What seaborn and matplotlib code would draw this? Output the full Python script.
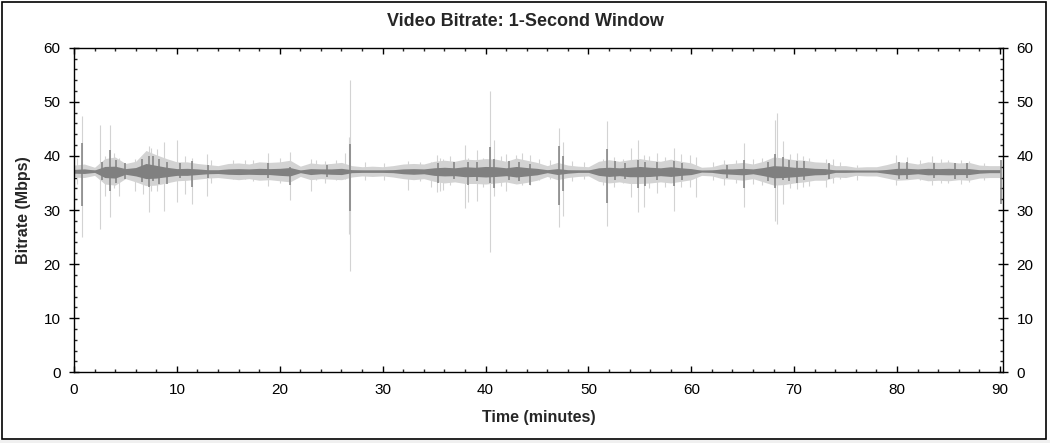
import matplotlib
matplotlib.use("Agg")
import matplotlib.pyplot as plt
import numpy as np
import pandas as pd
import seaborn as sns
from matplotlib.patches import Rectangle
from matplotlib.ticker import MultipleLocator

# one row per minute: envelope of the 1-second samples (light) and core (dark)
minutes = list(range(0, 91))
light_hi = [38.3, 38.5, 37.9, 39.5, 39.8, 38.6, 39.0, 41.0, 40.2, 39.5,
            38.9, 38.9, 38.6, 38.4, 38.2, 38.6, 38.7, 38.5, 38.9, 38.8,
            38.9, 39.2, 38.1, 38.7, 38.5, 38.6, 38.8, 38.2, 38.0, 38.1,
            38.0, 38.2, 38.5, 38.6, 38.5, 39.0, 39.2, 39.0, 39.4, 39.3,
            39.5, 39.4, 39.0, 39.6, 39.2, 38.8, 38.2, 38.8, 38.3, 38.1,
            38.0, 39.0, 39.3, 39.0, 39.3, 39.5, 39.2, 39.0, 39.4, 39.0,
            38.7, 37.9, 38.0, 38.5, 38.6, 38.8, 38.5, 39.0, 39.8, 39.6,
            39.3, 39.2, 38.9, 38.8, 38.2, 38.2, 37.9, 38.0, 38.0, 38.4,
            38.9, 38.8, 38.5, 38.9, 38.8, 38.9, 38.7, 38.8, 38.3, 38.2,
            38.2]
light_lo = [36.1, 36.0, 36.4, 34.8, 34.6, 35.8, 35.2, 34.5, 34.6, 35.0,
            35.4, 35.5, 35.7, 35.9, 36.0, 35.8, 35.6, 35.8, 35.5, 35.6,
            35.4, 35.2, 36.2, 35.6, 35.8, 35.7, 35.6, 36.1, 36.3, 36.2,
            36.3, 36.1, 35.8, 35.6, 35.8, 35.3, 35.0, 35.2, 34.9, 34.9,
            34.8, 35.0, 35.2, 34.8, 35.1, 35.5, 36.2, 35.6, 36.0, 36.2,
            36.3, 35.3, 35.0, 35.2, 34.9, 34.9, 35.0, 35.2, 35.0, 35.3,
            35.6, 36.4, 36.3, 35.8, 35.7, 35.5, 35.8, 35.2, 34.6, 34.7,
            35.0, 35.2, 35.5, 35.5, 36.1, 36.0, 36.4, 36.3, 36.3, 35.9,
            35.5, 35.6, 35.8, 35.4, 35.5, 35.4, 35.6, 35.5, 35.9, 36.0,
            36.0]
dark_hi = [37.5, 37.6, 37.4, 38.05, 38.1, 37.65, 37.85, 38.6, 38.25, 37.9,
           37.65, 37.7, 37.6, 37.45, 37.45, 37.6, 37.65, 37.6, 37.7, 37.65,
           37.7, 37.85, 37.4, 37.65, 37.6, 37.6, 37.7, 37.45, 37.4, 37.4,
           37.4, 37.45, 37.6, 37.65, 37.6, 37.8, 37.9, 37.8, 38.0, 37.9,
           38.05, 38.0, 37.8, 38.05, 37.85, 37.7, 37.45, 37.65, 37.45, 37.4,
           37.4, 37.8, 37.9, 37.8, 37.9, 38.05, 37.9, 37.8, 38.0, 37.8,
           37.65, 37.35, 37.4, 37.6, 37.6, 37.7, 37.6, 37.85, 38.2, 38.1,
           37.9, 37.85, 37.7, 37.65, 37.4, 37.4, 37.35, 37.35, 37.35, 37.5,
           37.7, 37.7, 37.6, 37.7, 37.65, 37.7, 37.65, 37.65, 37.45, 37.45,
           37.45]
dark_lo = [36.8, 36.75, 36.95, 36.0, 35.9, 36.6, 36.3, 35.8, 35.9, 36.15,
           36.4, 36.4, 36.55, 36.7, 36.75, 36.6, 36.55, 36.6, 36.55, 36.55,
           36.4, 36.3, 36.9, 36.55, 36.7, 36.6, 36.55, 36.9, 36.95, 36.95,
           36.95, 36.9, 36.7, 36.6, 36.7, 36.4, 36.3, 36.35, 36.15, 36.2,
           36.1, 36.2, 36.35, 36.1, 36.3, 36.5, 36.9, 36.55, 36.8, 36.95,
           36.95, 36.4, 36.2, 36.35, 36.15, 36.15, 36.2, 36.35, 36.2, 36.4,
           36.55, 37.0, 36.95, 36.7, 36.6, 36.5, 36.7, 36.35, 35.95, 36.0,
           36.15, 36.3, 36.5, 36.55, 36.95, 36.95, 37.0, 37.0, 37.0, 36.75,
           36.5, 36.55, 36.7, 36.5, 36.55, 36.5, 36.55, 36.55, 36.8, 36.9,
           36.9]

# single 1-second peaks (light = window range, dark = core)
spike_t = [0.3, 0.81, 2.56, 2.98, 3.53, 3.9, 4.4, 5.95, 6.7, 7.28, 7.5, 8.1,
           8.77, 9.97, 10.8, 11.46, 12.88, 13.3, 15.46, 16.6, 17.4, 18.87,
           20.0, 21.04, 23.08, 23.5, 24.4, 25.5, 26.3, 26.75, 26.8, 28.3,
           30.1, 32.5, 33.6, 34.7, 35.3, 35.6, 35.9, 36.5, 37.99, 38.3, 39.2,
           39.8, 40.42, 40.8, 41.5, 41.99, 42.98, 43.5, 44.3, 45.2, 46.3,
           47.1, 47.5, 48.4, 49.6, 51.4, 51.78, 52.5, 53.4, 54.1, 54.8, 55.4,
           55.9, 56.7, 57.4, 58.35, 59.0, 59.9, 60.5, 62.1, 63.2, 64.3,
           65.15, 66.0, 66.9, 68.16, 68.3, 68.96, 69.6, 70.3, 70.9, 71.4,
           73.1, 73.8, 74.5, 76.1, 79.9, 81.0, 82.2, 83.4, 84.3, 85.0, 86.2,
           87.0, 88.5]
spike_hi = [39.6, 47.4, 45.8, 39.9, 45.7, 40.5, 39.7, 39.5, 39.5, 41.8, 41.5,
            41.2, 42.5, 42.9, 39.9, 39.6, 40.4, 39.2, 39.3, 39.3, 39.3, 40.6,
            39.6, 40.7, 39.5, 39.3, 39.0, 39.3, 40.6, 43.5, 54.0, 38.8,
            38.7, 39.0, 38.9, 38.9, 40.1, 39.6, 39.5, 39.9, 42.0, 39.7, 41.1,
            39.6, 52.0, 42.9, 39.9, 40.4, 40.1, 40.6, 40.1, 39.5, 39.2,
            45.1, 42.6, 39.0, 38.8, 39.5, 46.4, 39.8, 39.5, 41.4, 43.0, 40.1,
            40.0, 40.6, 39.8, 41.4, 40.3, 40.1, 39.8, 38.8, 39.2, 39.3,
            42.3, 39.5, 39.7, 46.6, 47.9, 42.7, 40.3, 40.6, 40.0, 39.6,
            39.5, 39.5, 38.9, 38.4, 40.1, 39.8, 39.3, 39.9, 39.4, 39.2, 39.3,
            39.0, 38.7]
spike_lo = [34.8, 25.0, 26.4, 32.5, 28.7, 34.0, 32.5, 33.6, 33.0, 29.6, 33.5,
            33.5, 29.9, 31.5, 33.0, 31.2, 32.5, 35.0, 35.8, 35.8, 35.3, 34.4,
            35.0, 31.8, 33.6, 35.5, 35.0, 35.5, 35.8, 25.6, 18.8, 35.6,
            35.5, 33.7, 35.3, 34.3, 33.3, 33.5, 33.7, 34.6, 30.4, 31.5, 31.7,
            34.2, 22.2, 32.5, 34.4, 33.6, 35.5, 34.6, 34.6, 35.5, 35.8,
            26.9, 28.8, 35.4, 35.8, 34.6, 27.0, 34.2, 34.9, 32.4, 29.6, 30.6,
            34.0, 33.2, 34.2, 29.8, 34.3, 34.3, 32.4, 35.5, 34.6, 35.0,
            30.6, 34.8, 34.6, 27.9, 27.4, 31.2, 34.0, 33.8, 34.2, 34.4,
            34.3, 34.9, 35.8, 35.5, 34.6, 35.8, 35.6, 34.6, 35.0, 34.9, 34.8,
            35.2, 35.6]

core_t = [0.81, 2.7, 3.53, 4.1, 5.0, 6.6, 7.28, 7.7, 8.3, 9.0, 10.3, 11.46,
          13.0, 18.9, 21.04, 24.6, 26.8, 35.4, 36.9, 38.3, 39.2, 40.42, 40.8,
          42.3, 43.3, 44.3, 47.1, 47.5, 51.78, 52.6, 53.6, 54.8, 55.5, 56.7,
          58.35, 59.1, 63.5, 65.15, 67.5, 68.16, 68.96, 69.5, 70.3, 71.0,
          73.4, 80.2, 81.0, 83.6, 85.6, 86.8, 90.15]
core_hi = [42.4, 38.8, 41.1, 39.3, 38.6, 39.4, 39.9, 40.0, 39.5, 38.8, 38.6,
           39.0, 38.4, 38.6, 38.0, 38.3, 42.2, 38.6, 38.8, 38.8, 38.9, 41.7,
           39.5, 39.0, 38.9, 38.5, 41.8, 39.9, 41.2, 39.0, 38.7, 39.2, 38.8,
           38.9, 39.0, 38.7, 38.4, 39.2, 38.9, 40.4, 39.8, 39.3, 39.0, 39.0,
           38.6, 38.8, 38.9, 38.6, 38.7, 38.6, 39.2]
core_lo = [30.7, 35.5, 33.6, 35.0, 35.8, 35.2, 34.3, 35.3, 34.8, 34.8, 35.9,
           34.3, 36.0, 36.0, 34.6, 36.1, 29.8, 34.9, 35.7, 34.6, 35.3, 34.9,
           34.1, 35.6, 35.4, 34.6, 30.9, 33.5, 31.3, 35.5, 35.7, 34.1, 34.5,
           35.5, 34.5, 35.6, 36.0, 34.1, 35.4, 34.1, 35.5, 35.4, 35.0, 35.6,
           35.8, 35.8, 35.8, 35.9, 35.8, 35.9, 31.2]

light = "#d3d3d3"
dark = "#808080"

sns.set_style("ticks")
plt.rcParams["font.family"] = ["Liberation Sans", "DejaVu Sans"]

df_light = pd.DataFrame({"t": minutes * 2, "v": light_hi + light_lo})
df_dark = pd.DataFrame({"t": minutes * 2, "v": dark_hi + dark_lo})

fig = plt.figure(figsize=(10.5, 4.43), dpi=100)
fig.patch.set_facecolor("white")
ax = fig.add_axes([74 / 1050, 1 - 372.3 / 443, 929 / 1050, 324.6 / 443])

sns.lineplot(data=df_light, x="t", y="v", errorbar=("pi", 100), color=light,
             linewidth=0.6, zorder=1,
             err_kws={"alpha": 1, "linewidth": 0, "zorder": 1}, ax=ax)
ax.vlines(spike_t, spike_lo, spike_hi, color=light, linewidth=0.8, zorder=1.5)
sns.lineplot(data=df_dark, x="t", y="v", errorbar=("pi", 100), color=dark,
             linewidth=0.8, zorder=2,
             err_kws={"alpha": 1, "linewidth": 0, "zorder": 2}, ax=ax)
ax.vlines(core_t, core_lo, core_hi, color=dark, linewidth=1.1, zorder=2.5)

ax.set_xlim(0, 90.3)
ax.set_ylim(0, 60)
ax.xaxis.set_major_locator(MultipleLocator(10))
ax.xaxis.set_minor_locator(MultipleLocator(2))
ax.yaxis.set_major_locator(MultipleLocator(10))
ax.yaxis.set_minor_locator(MultipleLocator(2))

for s in ax.spines.values():
    s.set_visible(True)
    s.set_linewidth(1.0)
    s.set_color("black")
    s.set_zorder(3)

ax.tick_params(axis="x", which="major", direction="in", length=4.5, width=1,
               top=True, bottom=True, labelsize=11, pad=8, colors="black")
ax.tick_params(axis="x", which="minor", direction="in", length=2, width=1,
               top=True, bottom=True)
ax.tick_params(axis="y", which="major", direction="inout", length=7.5, width=1,
               left=True, right=True, labelleft=True, labelright=True,
               labelsize=11, pad=6, colors="black")
ax.tick_params(axis="y", which="minor", direction="in", length=2.5, width=1,
               left=True, right=True)

ax.set_xlabel("Time (minutes)", fontsize=11.5, fontweight="bold", labelpad=9)
ax.set_ylabel("Bitrate (Mbps)", fontsize=11.5, fontweight="bold", labelpad=9)
fig.text(0.5, 1 - 22 / 443, "Video Bitrate: 1-Second Window", ha="center",
         va="center", fontsize=13, fontweight="bold")

fig.patches.append(Rectangle((2 / 1050, 4 / 443), 1044 / 1050, 437 / 443,
                             transform=fig.transFigure, fill=False,
                             edgecolor="black", linewidth=1.2))
fig.patches.append(Rectangle((0, 0), 1, 3 / 443, transform=fig.transFigure,
                             facecolor="#f0f0f0", edgecolor="none"))

plt.savefig("out.png", dpi=100)
